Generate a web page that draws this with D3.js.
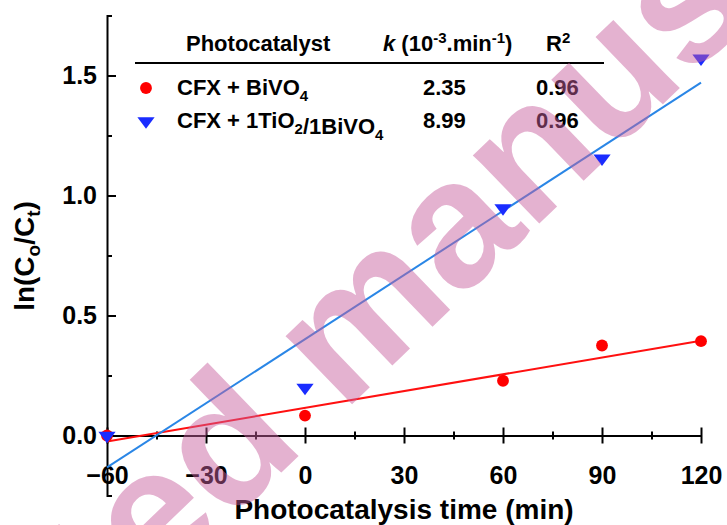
<!DOCTYPE html>
<html>
<head>
<meta charset="utf-8">
<script src="https://cdn.jsdelivr.net/npm/d3@7"></script>
<style>
  body { margin: 0; background: #fff; }
  svg { display: block; }
  text { font-family: "Liberation Sans", Arial, sans-serif; font-weight: bold; }
</style>
</head>
<body>
<svg id="chart" width="727" height="525"></svg>
<script>
// Sampling times (min) and ln(C0/Ct) for each catalyst
const times = [-60, 0, 60, 90, 120];
const bivo4 = [0, 0.083, 0.228, 0.375, 0.393];
const tio2Bivo4 = [0, 0.200, 0.948, 1.155, 1.572];

// Linear fits, evaluated at the ends of the time range
const fitTimes = [-60, 120];
const bivo4Fit = [-0.025, 0.395];
const tio2Fit = [-0.133, 1.470];

// Axis ticks
const xTicks = [-60, -30, 0, 30, 60, 90, 120];
const xMinorTicks = [-45, -15, 15, 45, 75, 105];
const yTicks = [0, 0.5, 1.0, 1.5];
const yMinorTicks = [-0.25, 0.25, 0.75, 1.25, 1.75];

// Legend table
const seriesNames = ["CFX + BiVO_4", "CFX + 1TiO_2/1BiVO_4"];
const kValues = ["2.35", "8.99"];
const r2Values = ["0.96", "0.96"];
const seriesColors = ["#ff0000", "#1a2cff"];
const fitColors = ["#ff1010", "#2a86e6"];

const svg = d3.select("#chart");

const x = d3.scaleLinear().domain([-60, 120]).range([107, 701]);
const y = d3.scaleLinear().domain([-0.25, 1.75]).range([495.5, 15.5]);

// ---- y axis: ticks point into the plot, labels on the left
const yAxis = svg.append("g").attr("transform", `translate(${x(-60)},0)`)
  .call(d3.axisLeft(y).tickValues(yTicks).tickFormat(d3.format(".1f"))
    .tickSizeInner(-9).tickSizeOuter(-5).tickPadding(10));
yAxis.selectAll("text").style("font-size", "25px").attr("fill", "#000");
svg.append("g").attr("transform", `translate(${x(-60)},0)`)
  .call(d3.axisLeft(y).tickValues(yMinorTicks).tickFormat("")
    .tickSizeInner(-5).tickSizeOuter(0))
  .select(".domain").remove();

// ---- x axis along ln(C0/Ct) = 0, ticks cross the line
const xAxis = svg.append("g").attr("transform", `translate(0,${y(0)})`)
  .call(d3.axisBottom(x).tickValues(xTicks).tickFormat(d3.format("d"))
    .tickSizeInner(8).tickSizeOuter(0).tickPadding(23));
xAxis.selectAll(".tick line").attr("y1", -8).attr("y2", 8);
xAxis.selectAll("text").style("font-size", "25px").attr("fill", "#000");
const xMinor = svg.append("g").attr("transform", `translate(0,${y(0)})`)
  .call(d3.axisBottom(x).tickValues(xMinorTicks).tickFormat("")
    .tickSizeInner(4).tickSizeOuter(0));
xMinor.select(".domain").remove();
xMinor.selectAll(".tick line").attr("y1", -4).attr("y2", 4);

svg.selectAll(".domain, .tick line").attr("stroke", "#000").attr("stroke-width", 2);

// ---- axis titles
svg.append("text").attr("x", (x(-60) + x(120)) / 2).attr("y", 519)
  .attr("text-anchor", "middle").style("font-size", "28px")
  .text("Photocatalysis time (min)");

const yTitle = svg.append("text").attr("transform", "translate(34,256) rotate(-90)")
  .attr("text-anchor", "middle").style("font-size", "28px");
yTitle.append("tspan").text("ln(C");
yTitle.append("tspan").attr("dy", 6).style("font-size", "19px").text("o");
yTitle.append("tspan").attr("dy", -6).text("/C");
yTitle.append("tspan").attr("dy", 6).style("font-size", "19px").text("t");
yTitle.append("tspan").attr("dy", -6).text(")");

// ---- fitted lines
const line = d3.line().x(d => x(d[0])).y(d => y(d[1]));
[bivo4Fit, tio2Fit].forEach((fit, i) => {
  svg.append("path").datum(fitTimes.map((t, j) => [t, fit[j]]))
    .attr("d", line).attr("fill", "none")
    .attr("stroke", fitColors[i]).attr("stroke-width", 2);
});

// ---- data points (down-pointing triangles are a little wider than tall)
const circle = d3.symbol().type(d3.symbolCircle).size(110);
const tri = d3.symbol().type(d3.symbolTriangle).size(90);
const triTransform = "rotate(180) scale(1.2,0.92)";
svg.append("g").selectAll("path").data(times.map((t, i) => [t, bivo4[i]]))
  .join("path").attr("d", circle)
  .attr("transform", d => `translate(${x(d[0])},${y(d[1])})`)
  .attr("fill", seriesColors[0]);
svg.append("g").selectAll("path").data(times.map((t, i) => [t, tio2Bivo4[i]]))
  .join("path").attr("d", tri)
  .attr("transform", d => `translate(${x(d[0])},${y(d[1])}) ${triTransform}`)
  .attr("fill", seriesColors[1]);

// ---- legend table
const lg = svg.append("g").style("font-size", "22px");
lg.append("text").attr("x", 186).attr("y", 51).text("Photocatalyst");
const kHead = lg.append("text").attr("x", 383).attr("y", 51);
kHead.append("tspan").style("font-style", "italic").text("k");
kHead.append("tspan").text(" (10");
kHead.append("tspan").attr("dy", -8).style("font-size", "15px").text("-3");
kHead.append("tspan").attr("dy", 8).text(".min");
kHead.append("tspan").attr("dy", -8).style("font-size", "15px").text("-1");
kHead.append("tspan").attr("dy", 8).text(")");
const rHead = lg.append("text").attr("x", 546).attr("y", 51);
rHead.append("tspan").text("R");
rHead.append("tspan").attr("dy", -8).style("font-size", "15px").text("2");
lg.append("line").attr("x1", 135).attr("x2", 604).attr("y1", 63).attr("y2", 63)
  .attr("stroke", "#000").attr("stroke-width", 2);

const rowY = [95, 128];
seriesNames.forEach((name, i) => {
  const cy = rowY[i] - 7;
  lg.append("path").attr("d", i === 0 ? circle : tri)
    .attr("transform", `translate(146,${cy})` + (i === 1 ? " " + triTransform : ""))
    .attr("fill", seriesColors[i]);
  const t = lg.append("text").attr("x", 177).attr("y", rowY[i]);
  name.split(/_(\d)/).forEach((part, j) => {
    if (!part) return;
    if (j % 2 === 1) {
      t.append("tspan").attr("dy", 6).style("font-size", "15px").text(part);
      t.append("tspan").attr("dy", -6).text("");
    } else {
      t.append("tspan").text(part);
    }
  });
  lg.append("text").attr("x", 423).attr("y", rowY[i]).text(kValues[i]);
  lg.append("text").attr("x", 536).attr("y", rowY[i]).text(r2Values[i]);
});

// ---- translucent diagonal banner across the figure
const wmAngle = -44, wmSize = 180;
const wm = svg.append("g").attr("transform", `translate(343,413) rotate(${wmAngle})`);
const probe = wm.append("text").style("font-size", wmSize + "px").text("Accepted\u00a0");
const lead = probe.node().getComputedTextLength();
probe.remove();
wm.append("text").attr("x", -lead).attr("y", 0)
  .style("font-size", wmSize + "px")
  .attr("fill", "rgb(199,94,157)").attr("fill-opacity", 0.48)
  .text("Accepted\u00a0manuscript");
</script>
</body>
</html>
